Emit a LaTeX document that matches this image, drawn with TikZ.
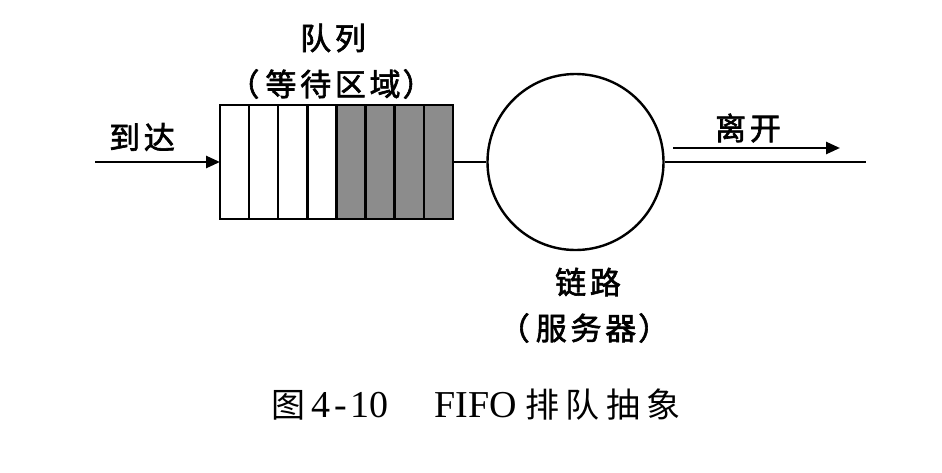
\documentclass[tikz,border=0pt]{standalone}
\usepackage{fontspec}
\setmainfont{Liberation Serif}
\newfontfamily\cjk{Noto Sans CJK SC}[LetterSpace=19]
\newfontfamily\cjkb{Noto Sans CJK SC}[FakeBold=2,LetterSpace=12]
\usetikzlibrary{arrows.meta}
\definecolor{cellgray}{HTML}{8C8C8C}
\tikzset{
  lbl/.style={font=\fontsize{31}{34}\selectfont\cjkb, inner sep=0pt},
  captxt/.style={font=\fontsize{38}{40}\selectfont, inner sep=0pt},
  ln/.style={line width=2.6pt},
  arr/.style={line width=2.6pt, -{Triangle[length=14pt,width=12pt]}},
  cellw/.style={draw, line width=2.4pt, fill=white},
  cellg/.style={draw, line width=2.4pt, fill=cellgray},
}
\begin{document}
\begin{tikzpicture}[x=1pt,y=-1pt]
\useasboundingbox (0,0) rectangle (942,472);
% queue cells
\foreach \i in {0,1,2,3} {
  \path[cellw] (220+29.1*\i,105) rectangle (220+29.1*\i+29.1,219);
}
\foreach \i in {4,5,6,7} {
  \path[cellg] (220+29.1*\i,105) rectangle (220+29.1*\i+29.1,219);
}
\draw[line width=2.6pt] (220,105) rectangle (453,219);
\coordinate (qin) at (220,162);
\coordinate (qout) at (453,162);
\coordinate (src) at (95,162);
% server
\node[draw, circle, line width=2.4pt, minimum size=176pt, inner sep=0pt] (srv) at (575.5,162) {};
\coordinate (sink) at (866,162);
\coordinate (a1) at (673,148);
\coordinate (a2) at (840,148);
% connectors
\draw[arr] (src) -- (qin);
\draw[ln] (qout) -- (srv.west);
\draw[ln] (srv.east) -- (sink);
\draw[arr] (a1) -- (a2);
% labels
\node[lbl] (arrive) at (142,137) {到达};
\node[lbl] (leave) at (748,128) {离开};
\node[lbl] (qname) at (333,38) {队列};
\node[lbl] (qarea) at (331,84) {（\hspace{6pt}等待区域\hspace{2pt}）};
\node[lbl] (link) at (588,282) {链路};
\node[lbl] (srvname) at (584,328) {（\hspace{6pt}服务器\hspace{2pt}）};
\node[captxt, anchor=west] (caption) at (271,405) {{\fontsize{34}{36}\selectfont\cjk 图}\hspace{6pt}4\hspace{4pt}-\hspace{4pt}10\hspace{46pt}FIFO\hspace{8pt}{\fontsize{34}{36}\selectfont\cjk 排队抽象}};
\end{tikzpicture}
\end{document}
